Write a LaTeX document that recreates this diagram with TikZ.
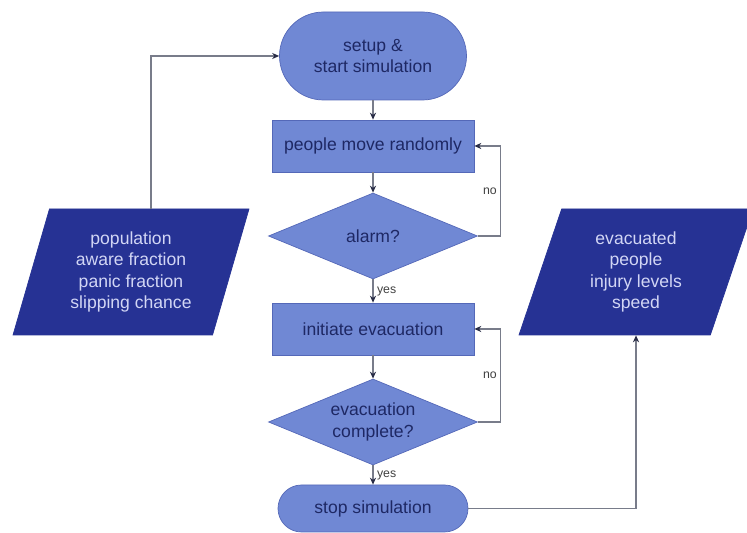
\documentclass[tikz,border=0pt]{standalone}
\usepackage{fontspec}
\setmainfont{Liberation Sans}
\usepackage{tikz}
\usetikzlibrary{shapes.geometric,arrows,arrows.meta,shapes,positioning,calc}
\usepackage{xcolor}

\definecolor{boxfill}{RGB}{112,136,212}
\definecolor{boxline}{RGB}{84,104,184}
\definecolor{boxtext}{RGB}{30,40,100}
\definecolor{iofill}{RGB}{38,50,148}
\definecolor{iotext}{RGB}{210,214,245}
\definecolor{flowline}{RGB}{120,124,138}
\definecolor{tipcol}{RGB}{40,44,70}

\tikzset{
  base/.style={fill=boxfill, draw=boxline, text=boxtext, align=center, font=\fontsize{10}{12}\selectfont},
  term/.style={base, minimum width=3.74cm, minimum height=1.76cm, rounded corners=0.88cm},
  proc/.style={base, minimum width=4.04cm, minimum height=1.04cm},
  test/.style={base, diamond, shape aspect=2.4, inner sep=0pt, minimum width=4.18cm, minimum height=1.72cm},
  io/.style={trapezium, trapezium left angle=72, trapezium right angle=108, fill=iofill, draw=iofill, text=iotext,
    align=center, font=\fontsize{10}{12}\selectfont, minimum width=4.72cm, minimum height=2.52cm, trapezium stretches=true},
  flow/.style={-{Stealth[length=4pt,width=3.5pt,color=tipcol]}, flowline, semithick},
  tag/.style={font=\fontsize{7}{8}\selectfont, text=black!75, inner sep=2pt}
}

\begin{document}
\begin{tikzpicture}

\useasboundingbox (0,0) rectangle (14.94,-10.66);

% etapes
\node[term] (start) at (7.46,-1.12) {setup \&\\start simulation};
\node[proc] (move) at (7.46,-2.92) {people move randomly};
\node[test] (alarm) at (7.46,-4.72) {alarm?};
\node[proc] (evac) at (7.46,-6.58) {initiate evacuation};
\node[test] (done) at (7.46,-8.44) {evacuation\\complete?};
\node[term, minimum width=3.8cm, minimum height=0.94cm, rounded corners=0.47cm] (stop) at (7.46,-10.17) {stop simulation};

% entrees / sorties
\node[io] (inL) at (2.62,-5.44) {population\\aware fraction\\panic fraction\\slipping chance};
\node[io] (outR) at (12.72,-5.44) {evacuated\\people\\injury levels\\speed};

% liaisons
\draw[flow] (start) -- (move);
\draw[flow] (move) -- (alarm);
\draw[flow] (alarm) -- node[tag, right]{yes} (evac);
\draw[flow] (evac) -- (done);
\draw[flow] (done) -- node[tag, right]{yes} (stop);
\draw[flow] (alarm.east) -- ++(0.46,0) |- node[tag, pos=0.25, left]{no} (move.east);
\draw[flow] (done.east) -- ++(0.46,0) |- node[tag, pos=0.25, left]{no} (evac.east);
\draw[flow] ([xshift=0.4cm]inL.north) |- (start.west);
\draw[flow] (stop.east) -| (outR.south);

\end{tikzpicture}
\end{document}
